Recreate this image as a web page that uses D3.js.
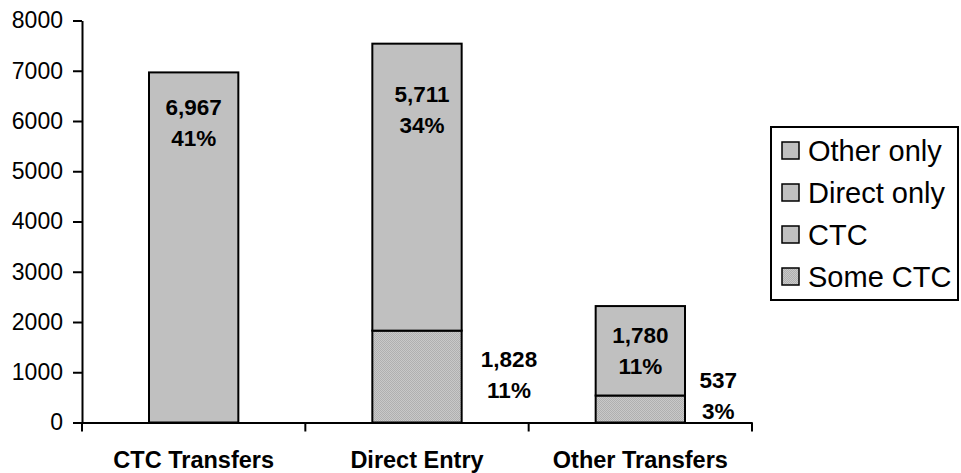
<!DOCTYPE html>
<html>
<head>
<meta charset="utf-8">
<script src="https://cdn.jsdelivr.net/npm/d3@7/dist/d3.min.js"></script>
<style>
  html, body { margin: 0; padding: 0; background: #fff; }
  svg { display: block; }
  text { font-family: "Liberation Sans", Arial, sans-serif; fill: #000; }
</style>
</head>
<body>
<svg id="chart" width="961" height="473"></svg>
<script>
// Student counts by entry route, stacked by CTC involvement
const categories = ["CTC Transfers", "Direct Entry", "Other Transfers"];
const seriesKeys = ["Some CTC", "CTC", "Direct only", "Other only"];   // bottom to top
const someCTC    = [0, 1828, 537];
const ctc        = [6967, 0, 0];
const directOnly = [0, 5711, 0];
const otherOnly  = [0, 0, 1780];
const yTicks = [0, 1000, 2000, 3000, 4000, 5000, 6000, 7000, 8000];
const legendOrder = ["Other only", "Direct only", "CTC", "Some CTC"];

const rows = categories.map((c, i) => ({
  category: c,
  "Some CTC": someCTC[i],
  "CTC": ctc[i],
  "Direct only": directOnly[i],
  "Other only": otherOnly[i]
}));
const grandTotal = d3.sum([...someCTC, ...ctc, ...directOnly, ...otherOnly]);

const svg = d3.select("#chart");
const plot = { left: 82, right: 752, top: 20.5, bottom: 422.5 };

const x = d3.scaleBand()
  .domain(categories)
  .range([plot.left, plot.right])
  .paddingInner(0.6)
  .paddingOuter(0.3);

const y = d3.scaleLinear()
  .domain([0, 8000])
  .range([plot.bottom, plot.top]);

// fine stipple used for the "Some CTC" segments
const defs = svg.append("defs");
const pat = defs.append("pattern")
  .attr("id", "stipple")
  .attr("width", 2).attr("height", 2)
  .attr("patternUnits", "userSpaceOnUse");
pat.append("rect").attr("width", 2).attr("height", 2).attr("fill", "#c9c9c9");
pat.append("rect").attr("x", 0).attr("y", 0).attr("width", 1).attr("height", 1).attr("fill", "#b0b0b0");
pat.append("rect").attr("x", 1).attr("y", 1).attr("width", 1).attr("height", 1).attr("fill", "#b0b0b0");

const fillFor = key => key === "Some CTC" ? "url(#stipple)" : "#c0c0c0";

// stacked segments
const stacked = d3.stack().keys(seriesKeys)(rows);
const segments = [];
stacked.forEach(layer => {
  layer.forEach(d => {
    const v = d[1] - d[0];
    if (v > 0) segments.push({ key: layer.key, category: d.data.category, y0: d[0], y1: d[1], value: v });
  });
});

svg.append("g").selectAll("rect")
  .data(segments)
  .join("rect")
  .attr("x", d => x(d.category))
  .attr("width", x.bandwidth())
  .attr("y", d => y(d.y1))
  .attr("height", d => y(d.y0) - y(d.y1))
  .attr("fill", d => fillFor(d.key))
  .attr("stroke", "#000")
  .attr("stroke-width", 2);

// y axis
const yAxis = svg.append("g")
  .attr("transform", `translate(${plot.left},0)`)
  .call(d3.axisLeft(y).tickValues(yTicks).tickFormat(d3.format("d")).tickSize(9).tickPadding(10).tickSizeOuter(0));
yAxis.select(".domain").attr("stroke", "#000").attr("stroke-width", 2);
yAxis.selectAll(".tick line").attr("stroke", "#000").attr("stroke-width", 2);
yAxis.selectAll(".tick text")
  .style("font-family", '"Liberation Sans", Arial, sans-serif')
  .style("font-size", "23px")
  .attr("fill", "#000");

// x axis: baseline with ticks at the category boundaries
const xAxis = svg.append("g")
  .attr("transform", `translate(0,${plot.bottom})`)
  .call(d3.axisBottom(x).tickSize(0).tickPadding(0).tickSizeOuter(0));
xAxis.select(".domain").attr("stroke", "#000").attr("stroke-width", 2);
xAxis.selectAll(".tick text")
  .attr("y", 0).attr("dy", 0)
  .attr("transform", "translate(0,45)")
  .style("font-family", '"Liberation Sans", Arial, sans-serif')
  .style("font-size", "23.5px")
  .style("font-weight", "bold")
  .attr("fill", "#000");

const boundaries = d3.range(categories.length + 1).map(i => plot.left + i * x.step());
xAxis.selectAll(".boundary")
  .data(boundaries)
  .join("line")
  .attr("class", "boundary")
  .attr("x1", d => d).attr("x2", d => d)
  .attr("y1", 0).attr("y2", 9)
  .attr("stroke", "#000").attr("stroke-width", 2);

// value + share labels; placement per segment (dx from bar centre, dy from segment top)
const placement = {
  "CTC Transfers|CTC":        { dx: 0,   dy: 43 },
  "Direct Entry|Direct only": { dx: 5,   dy: 58 },
  "Direct Entry|Some CTC":    { dx: 92,  dy: 36 },
  "Other Transfers|Other only": { dx: 0, dy: 37 },
  "Other Transfers|Some CTC": { dx: 78,  dy: -8 }
};
const fmt = d3.format(",");
const lbl = svg.append("g")
  .style("font-size", "22.5px")
  .style("font-weight", "bold")
  .attr("text-anchor", "middle");
segments.forEach(s => {
  const p = placement[s.category + "|" + s.key] || { dx: 0, dy: 40 };
  const cx = x(s.category) + x.bandwidth() / 2 + p.dx;
  const by = y(s.y1) + p.dy;
  lbl.append("text").attr("x", cx).attr("y", by).text(fmt(s.value));
  lbl.append("text").attr("x", cx).attr("y", by + 31).text(Math.round(s.value / grandTotal * 100) + "%");
});

// legend
const legend = svg.append("g");
legend.append("rect")
  .attr("x", 771).attr("y", 127)
  .attr("width", 187).attr("height", 173)
  .attr("fill", "#fff").attr("stroke", "#000").attr("stroke-width", 2);
const item = legend.selectAll(".item")
  .data(legendOrder)
  .join("g")
  .attr("class", "item")
  .attr("transform", (d, i) => `translate(0,${161 + i * 42})`);
item.append("rect")
  .attr("x", 782).attr("y", -19)
  .attr("width", 17).attr("height", 17)
  .attr("fill", d => fillFor(d))
  .attr("stroke", "#000").attr("stroke-width", 1.5);
item.append("text")
  .attr("x", 808).attr("y", 0)
  .style("font-size", "29px")
  .text(d => d);
</script>
</body>
</html>
